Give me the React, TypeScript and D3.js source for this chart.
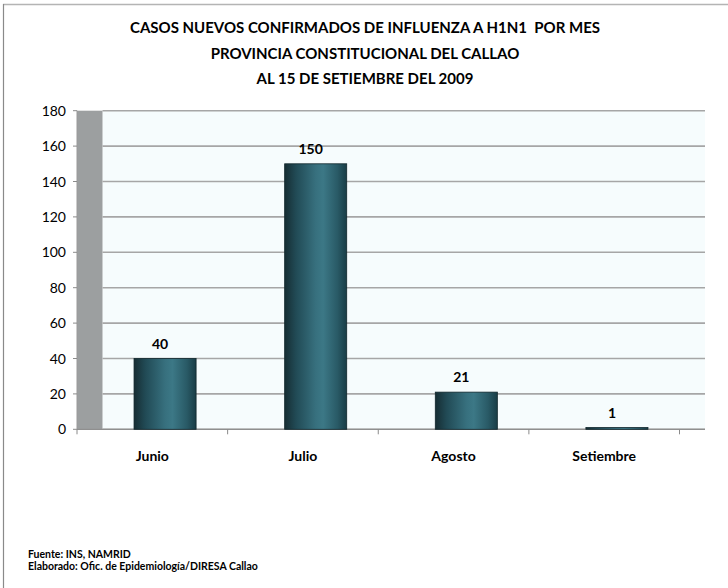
import React from "react";
import * as d3 from "d3";

const categories = ["Junio", "Julio", "Agosto", "Setiembre"];
const values = [40, 150, 21, 1];
const yTicks = [0, 20, 40, 60, 80, 100, 120, 140, 160, 180];
const titleLines = [
  "CASOS NUEVOS CONFIRMADOS DE INFLUENZA A H1N1  POR MES",
  "PROVINCIA CONSTITUCIONAL DEL CALLAO",
  "AL 15 DE SETIEMBRE DEL 2009",
];
const footerLines = ["Fuente: INS, NAMRID", "Elaborado: Ofic. de Epidemiología/DIRESA Callao"];

const W = 728;
const H = 588;
const FONT = "Lato, 'Open Sans', sans-serif";

export default function App() {
  const x0 = 77;
  const x1 = 679.5;
  const depth = 25.5;
  const yBottom = 429.3;
  const yTop = 110.7;

  const x = d3.scaleBand<string>().domain(categories).range([x0, x1]).paddingInner(0).paddingOuter(0);
  const y = d3.scaleLinear().domain([0, 180]).range([yBottom, yTop]);
  const barW = x.bandwidth() * 0.412;

  return (
    <svg
      width={W}
      height={H}
      style={{ position: "absolute", left: 0, top: 0, display: "block", background: "#fff" }}
      fontFamily={FONT}
    >
      <defs>
        <linearGradient id="barGrad" x1="0" x2="1" y1="0" y2="0">
          <stop offset="0" stopColor="#162d33" />
          <stop offset="0.18" stopColor="#214a55" />
          <stop offset="0.5" stopColor="#37707e" />
          <stop offset="0.62" stopColor="#3c7886" />
          <stop offset="0.85" stopColor="#295a66" />
          <stop offset="1" stopColor="#193d46" />
        </linearGradient>
      </defs>

      {/* outer frame */}
      <line x1={3} x2={W} y1={4.5} y2={4.5} stroke="#b4b4b4" strokeWidth={1.5} />
      <line x1={3.5} x2={3.5} y1={4} y2={H} stroke="#8a8a8a" strokeWidth={1.2} />

      {/* title */}
      {titleLines.map((t, i) => (
        <text
          key={i}
          x={365}
          y={33 + i * 25.5}
          textAnchor="middle"
          fontWeight="bold"
          fontSize={15}
          fill="#000"
          style={{ whiteSpace: "pre" }}
        >
          {t}
        </text>
      ))}

      {/* back wall */}
      <rect x={x0 + depth} y={yTop} width={x1 - x0} height={yBottom - yTop} fill="#f6fcfd" />
      {/* side wall */}
      <rect x={x0} y={yTop} width={depth} height={yBottom - yTop} fill="#9c9fa0" />

      {/* gridlines */}
      {yTicks.map((t) => (
        <line
          key={t}
          x1={x0 + depth}
          x2={x1 + depth}
          y1={y(t)}
          y2={y(t)}
          stroke="#a6a6a6"
          strokeWidth={1.6}
        />
      ))}

      {/* y axis */}
      <line x1={x0} x2={x0} y1={yTop} y2={yBottom} stroke="#9a9a9a" strokeWidth={1} />
      {yTicks.map((t) => (
        <g key={"yt" + t}>
          <line x1={x0 - 4} x2={x0} y1={y(t)} y2={y(t)} stroke="#8a8a8a" strokeWidth={1} />
          <text x={66} y={y(t) + 5} textAnchor="end" fontSize={14} fill="#000">
            {t}
          </text>
        </g>
      ))}

      {/* x axis */}
      <line x1={x0} x2={x1 + depth} y1={yBottom} y2={yBottom} stroke="#8f8f8f" strokeWidth={1.2} />
      {[...categories.map((c) => x(c) as number), x1].map((v, i) => (
        <line key={"xt" + i} x1={v} x2={v} y1={yBottom} y2={yBottom + 5} stroke="#8a8a8a" strokeWidth={1} />
      ))}

      {/* bars */}
      {categories.map((c, i) => {
        const cx = (x(c) as number) + x.bandwidth() / 2 + depth / 2;
        const top = y(values[i]);
        return (
          <g key={c}>
            <rect
              x={cx - barW / 2}
              y={top}
              width={barW}
              height={Math.max(yBottom - top, 1.5)}
              fill="url(#barGrad)"
              stroke="#10262c"
              strokeWidth={0.8}
            />
            <text x={cx - 5} y={top - 10} textAnchor="middle" fontWeight="bold" fontSize={14} fill="#000">
              {values[i]}
            </text>
          </g>
        );
      })}

      {/* category labels */}
      {categories.map((c) => (
        <text
          key={"cl" + c}
          x={(x(c) as number) + x.bandwidth() / 2}
          y={461}
          textAnchor="middle"
          fontWeight="bold"
          fontSize={14}
          fill="#000"
        >
          {c}
        </text>
      ))}

      {/* footer */}
      {footerLines.map((t, i) => (
        <text key={"f" + i} x={28} y={558 + i * 11.5} fontWeight="bold" fontSize={10.5} fill="#000">
          {t}
        </text>
      ))}
    </svg>
  );
}
